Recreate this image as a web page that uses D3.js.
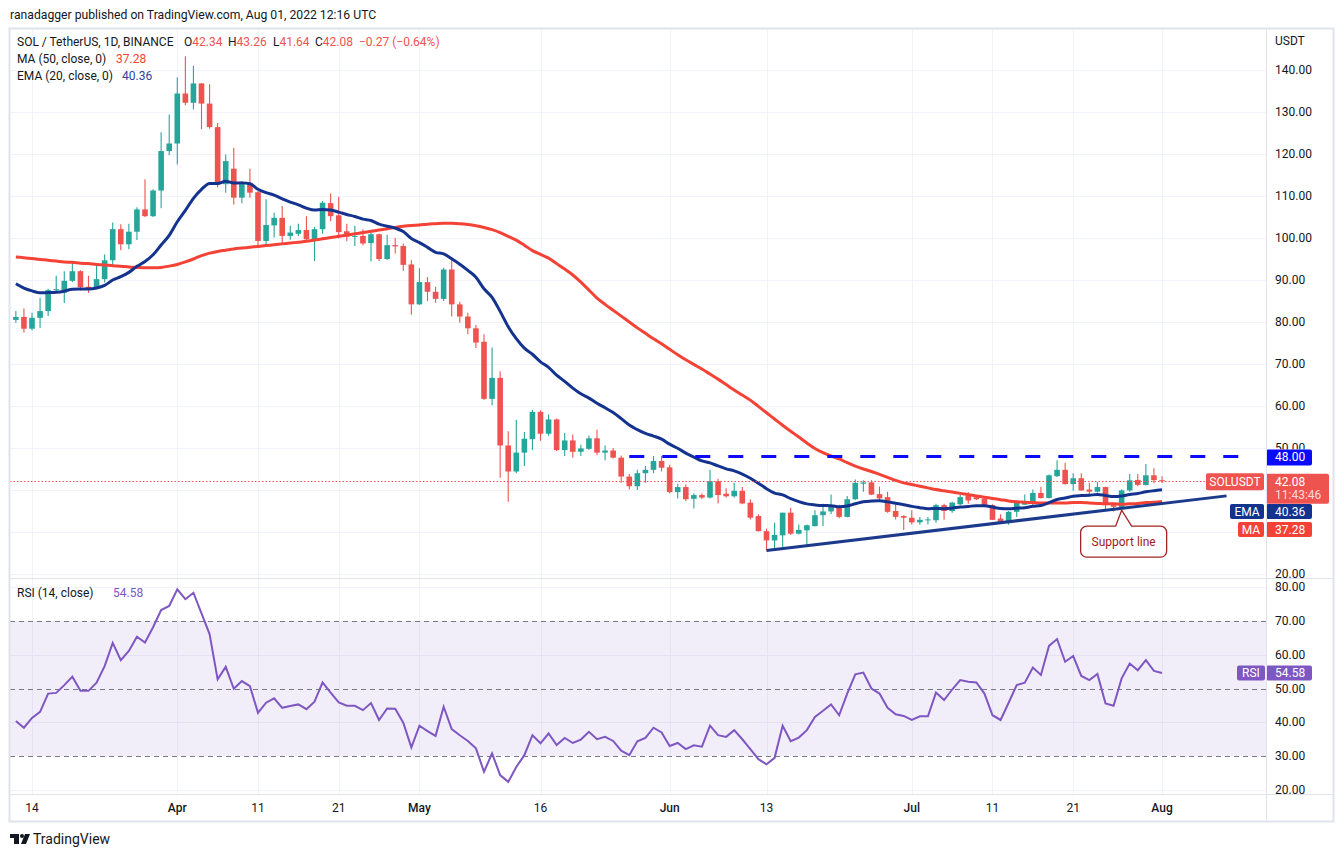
<!DOCTYPE html>
<html>
<head>
<meta charset="utf-8">
<title>SOL / TetherUS, 1D</title>
<script src="https://cdn.jsdelivr.net/npm/d3@7"></script>
<style>
  body { margin: 0; background: #fff; }
  text { font-family: Roboto, "Noto Sans", sans-serif; }
</style>
</head>
<body>
<svg id="chart" width="1344" height="857"></svg>
<script>
// daily candles, first one is Mar 12 2022
var firstDay = '2022-03-12';

var openPrices = [
    80.5, 81.2, 78.4, 81.0, 82.6, 87.6, 87.0, 89.8, 92.1, 88.4,
    88.0, 90.2, 94.7, 102.1, 98.5, 101.5, 106.8, 105.2, 111.3, 120.7,
    122.5, 134.4, 132.2, 136.8, 132.0, 126.4, 112.8, 116.5, 109.6, 113.0,
    110.9, 99.3, 103.0, 104.8, 100.5, 101.0, 101.9, 99.7, 102.1, 108.3,
    105.4, 101.6, 100.3, 100.5, 98.8, 100.9, 95.0, 98.3, 98.1, 93.7,
    84.2, 89.5, 87.2, 85.5, 92.5, 84.2, 81.3, 78.5, 75.3, 61.7,
    66.7, 50.6, 44.4, 48.9, 52.1, 58.6, 53.4, 56.8, 49.5, 51.8,
    49.1, 49.8, 52.3, 48.9, 49.4, 47.7, 43.2, 40.9, 44.0, 44.8,
    46.9, 45.4, 39.5, 40.7, 37.9, 38.8, 38.2, 42.1, 39.1, 38.5,
    39.8, 37.0, 33.8, 30.2, 28.0, 29.2, 34.6, 29.6, 30.4, 31.4,
    34.0, 34.9, 36.1, 33.6, 37.8, 41.5, 41.8, 39.0, 38.3, 35.0,
    33.8, 33.4, 32.3, 32.8, 32.8, 36.4, 35.0, 36.6, 38.7, 38.3,
    38.0, 36.4, 33.2, 32.3, 34.8, 36.5, 36.8, 39.3, 38.1, 43.3,
    44.8, 41.4, 42.8, 40.1, 39.6, 40.7, 36.4, 35.9, 39.9, 42.4,
    41.2, 43.5, 42.34
];
var highPrices = [
    82.6, 83.2, 82.2, 85.8, 87.9, 91.0, 92.1, 94.3, 92.3, 91.0,
    93.7, 96.1, 103.7, 103.3, 103.4, 107.3, 114.0, 111.6, 125.2, 129.4,
    138.3, 143.3, 141.0, 136.9, 136.6, 127.4, 119.9, 121.5, 113.6, 116.5,
    111.2, 109.2, 106.0, 107.6, 102.9, 103.4, 105.2, 102.6, 108.8, 110.6,
    109.8, 103.4, 102.9, 102.1, 101.4, 101.1, 100.8, 100.0, 98.7, 94.7,
    92.8, 90.7, 88.4, 92.9, 94.9, 84.8, 82.2, 79.3, 77.1, 73.9,
    68.3, 54.0, 56.7, 53.8, 59.1, 59.0, 58.0, 57.0, 53.6, 53.2,
    50.8, 53.0, 54.4, 50.6, 50.0, 48.2, 43.8, 44.8, 45.7, 48.1,
    48.1, 46.0, 41.5, 41.3, 39.2, 39.2, 44.8, 42.7, 40.4, 41.7,
    40.7, 37.8, 34.2, 30.8, 32.2, 34.6, 35.8, 31.8, 31.8, 35.2,
    36.7, 38.9, 36.5, 38.6, 42.5, 42.3, 42.3, 40.8, 39.6, 36.6,
    34.0, 35.2, 33.6, 33.6, 36.7, 36.7, 37.2, 38.9, 39.5, 38.7,
    38.3, 36.6, 34.2, 35.0, 37.4, 38.9, 40.1, 40.8, 43.7, 47.1,
    46.5, 44.0, 44.0, 41.7, 41.9, 40.8, 36.5, 40.2, 43.8, 43.8,
    46.2, 45.2, 43.26
];
var lowPrices = [
    79.8, 77.5, 78.0, 78.6, 81.4, 87.0, 84.5, 89.5, 87.5, 86.9,
    87.8, 89.4, 93.4, 97.1, 97.3, 99.5, 105.0, 105.0, 107.1, 119.7,
    117.5, 131.6, 130.6, 125.9, 126.0, 112.0, 110.8, 108.0, 108.3, 109.6,
    98.1, 98.3, 100.1, 98.6, 99.6, 100.5, 99.4, 94.5, 101.0, 104.0,
    99.9, 99.2, 98.1, 98.3, 94.4, 94.5, 94.8, 96.3, 92.2, 81.7,
    84.1, 85.0, 84.6, 85.0, 81.3, 79.9, 77.1, 73.8, 61.4, 60.2,
    42.9, 37.2, 44.0, 45.7, 49.5, 51.7, 52.9, 49.3, 48.1, 47.7,
    48.1, 49.5, 48.3, 47.1, 47.5, 41.7, 40.1, 40.0, 41.7, 44.0,
    44.4, 39.2, 38.0, 37.4, 35.6, 37.8, 38.0, 36.8, 38.2, 38.2,
    36.6, 33.0, 30.1, 25.6, 25.8, 26.4, 29.3, 29.4, 26.9, 31.3,
    31.4, 34.3, 33.3, 33.5, 37.6, 39.6, 38.8, 37.4, 34.6, 33.0,
    30.5, 31.8, 31.7, 31.8, 32.2, 32.9, 34.6, 36.4, 36.7, 37.6,
    36.1, 32.9, 31.9, 31.7, 33.6, 36.4, 36.4, 38.0, 38.0, 43.1,
    41.3, 39.8, 39.8, 38.5, 39.4, 35.0, 34.9, 35.5, 39.6, 40.9,
    41.1, 41.6, 41.64
];
var closePrices = [
    81.2, 78.4, 81.0, 82.6, 87.6, 87.8, 89.8, 92.1, 88.3, 88.0,
    90.2, 94.7, 102.1, 98.5, 101.5, 106.8, 105.2, 111.3, 120.7, 122.5,
    134.4, 132.2, 136.8, 132.0, 126.4, 112.8, 118.3, 109.6, 113.2, 110.8,
    99.3, 103.1, 104.8, 100.5, 101.3, 101.9, 99.7, 102.1, 108.4, 105.2,
    101.4, 100.3, 100.5, 98.7, 100.9, 95.0, 98.3, 98.0, 93.6, 84.2,
    89.5, 87.2, 85.5, 92.5, 84.2, 81.3, 78.5, 75.1, 61.7, 66.7,
    50.6, 44.4, 48.9, 52.2, 58.6, 53.4, 56.8, 49.5, 51.8, 49.1,
    49.9, 52.3, 48.9, 49.4, 47.7, 43.2, 40.9, 44.0, 44.8, 46.9,
    45.3, 39.5, 40.7, 37.8, 38.8, 38.2, 42.1, 38.8, 38.5, 39.8,
    36.8, 33.4, 30.2, 28.0, 29.3, 34.6, 29.6, 30.5, 31.6, 34.0,
    34.9, 36.1, 33.6, 37.8, 41.7, 41.8, 38.9, 38.0, 34.8, 33.6,
    33.4, 32.3, 32.9, 33.0, 36.4, 35.0, 37.0, 38.3, 37.5, 37.8,
    36.2, 32.9, 32.3, 34.8, 37.0, 37.1, 39.3, 38.1, 43.5, 44.8,
    41.4, 42.8, 39.9, 39.6, 40.7, 36.4, 36.0, 39.9, 42.3, 41.2,
    43.5, 42.35, 42.08
];

// MA(50), one value per candle
var ma50 = [
    95.5, 95.3, 95.1, 94.9, 94.7, 94.5, 94.3, 94.2, 94.0, 93.9,
    93.7, 93.6, 93.4, 93.3, 93.1, 93.0, 92.9, 92.9, 93.0, 93.3,
    93.7, 94.3, 95.0, 95.8, 96.4, 96.8, 97.1, 97.4, 97.6, 97.8,
    98.0, 98.2, 98.4, 98.6, 98.8, 99.0, 99.2, 99.5, 99.8, 100.1,
    100.4, 100.7, 101.0, 101.3, 101.6, 101.9, 102.2, 102.5, 102.8, 103.0,
    103.1, 103.3, 103.4, 103.5, 103.5, 103.4, 103.2, 102.9, 102.5, 102.0,
    101.3, 100.4, 99.5, 98.3, 97.0, 96.1, 95.2, 93.9, 92.6, 91.2,
    89.5, 87.6, 85.7, 84.2, 82.8, 81.4, 80.0, 78.6, 77.3, 76.0,
    74.8, 73.5, 72.2, 71.0, 69.9, 68.8, 67.6, 66.4, 65.1, 63.8,
    62.6, 61.4, 59.9, 58.4, 56.9, 55.4, 54.0, 52.6, 51.2, 49.9,
    48.9, 48.1, 47.4, 46.5, 45.7, 45.0, 44.4, 43.7, 43.0, 42.3,
    41.7, 41.3, 40.9, 40.5, 40.1, 39.8, 39.5, 39.2, 38.9, 38.6,
    38.3, 38.0, 37.7, 37.4, 37.2, 37.1, 37.0, 36.9, 36.9, 36.9,
    36.9, 37.0, 37.0, 36.9, 36.8, 36.7, 36.7, 36.6, 36.7, 36.8,
    37.0, 37.1, 37.28
];
// EMA(20) value at the first candle, the rest follows from the closes
var emaStart = 89.1;

// RSI(14)
var rsi14 = [
    40.4, 38.4, 41.3, 43.1, 48.5, 48.7, 51.0, 53.5, 49.3, 49.3,
    51.7, 56.6, 63.5, 58.4, 61.1, 65.3, 63.6, 68.1, 73.2, 74.4,
    79.3, 76.4, 78.3, 72.2, 66.1, 52.7, 56.4, 49.9, 52.2, 50.7,
    42.8, 45.8, 47.1, 44.3, 44.8, 45.3, 43.9, 46.1, 51.8, 48.8,
    45.9, 44.9, 44.9, 43.6, 45.7, 40.7, 44.1, 44.0, 39.9, 32.6,
    39.0, 37.4, 36.0, 44.6, 38.0, 36.2, 34.5, 32.3, 25.4, 30.8,
    24.4, 22.4, 26.8, 30.3, 36.2, 33.8, 36.7, 33.3, 35.4, 33.9,
    34.9, 37.2, 35.0, 35.7, 34.5, 31.6, 30.3, 34.4, 35.4, 38.4,
    37.0, 33.0, 33.9, 32.1, 33.2, 32.8, 39.0, 36.2, 35.7, 37.7,
    35.0, 32.1, 29.1, 27.6, 29.5, 39.0, 34.4, 35.5, 37.7, 41.6,
    43.4, 45.3, 42.1, 48.5, 54.2, 54.7, 50.0, 48.5, 44.3, 42.4,
    41.9, 40.7, 41.8, 41.8, 48.8, 46.6, 49.7, 52.5, 52.0, 51.8,
    48.5, 42.1, 40.7, 45.8, 51.0, 51.7, 56.2, 54.0, 62.6, 64.6,
    57.9, 59.6, 53.7, 52.5, 54.3, 45.6, 44.9, 53.0, 57.4, 55.4,
    58.4, 55.2, 54.58
];

var priceTicks = [20, 30, 40, 50, 60, 70, 80, 90, 100, 110, 120, 130, 140];
var rsiTicks = [20, 30, 40, 50, 60, 70, 80];
var rsiLevels = [30, 50, 70];
var timeTicks = ['2022-03-14', '2022-04-01', '2022-04-11', '2022-04-21', '2022-05-01', '2022-05-16',
    '2022-06-01', '2022-06-13', '2022-07-01', '2022-07-11', '2022-07-21', '2022-08-01'];
var timeLabels = ['14', 'Apr', '11', '21', 'May', '16', 'Jun', '13', 'Jul', '11', '21', 'Aug'];

// drawings
var resistanceLevel = 48;
var resistanceDays = ['2022-05-27', '2022-08-11'];
var supportDays = ['2022-06-13', '2022-08-09'];
var supportPrices = [25.6, 38.6];
var calloutDay = '2022-07-27';
var calloutPrice = 35.2;

var GREEN = '#26a69a', RED = '#ef5350';
var MA_COLOR = '#f44336', EMA_COLOR = '#14338f', RSI_COLOR = '#7e57c2';
var GRID = '#f0f3fa', BORDER = '#e0e3eb', TEXT = '#131722';

var paneLeft = 10, paneRight = 1266;
var priceTop = 29, priceBottom = 578, rsiTop = 579, rsiBottom = 794;

var parseDay = d3.utcParse('%Y-%m-%d');
var day0 = parseDay(firstDay);
var candles = openPrices.map(function(o, i) {
    return {
        date: d3.utcDay.offset(day0, i),
        open: o, high: highPrices[i], low: lowPrices[i], close: closePrices[i]
    };
});

var emaValues = [];
closePrices.forEach(function(c, i) {
    if (i === 0) emaValues.push(emaStart);
    else emaValues.push(emaValues[i - 1] + (c - emaValues[i - 1]) * 2 / 21);
});

var x = d3.scaleUtc()
    .domain([parseDay('2022-03-14'), parseDay('2022-08-01')])
    .range([32, 1162]);
var y = d3.scaleLinear().domain([20, 140]).range([574, 70]);
var yr = d3.scaleLinear().domain([20, 80]).range([790, 587]);

var svg = d3.select('#chart');
var defs = svg.append('defs');
defs.append('clipPath').attr('id', 'priceClip').append('rect')
    .attr('x', paneLeft).attr('y', priceTop)
    .attr('width', paneRight - paneLeft).attr('height', priceBottom - priceTop);
defs.append('clipPath').attr('id', 'rsiClip').append('rect')
    .attr('x', paneLeft).attr('y', rsiTop)
    .attr('width', paneRight - paneLeft).attr('height', rsiBottom - rsiTop);
// the 48.00 tag hides the lower half of the 50.00 label
defs.append('clipPath').attr('id', 'above48').append('rect')
    .attr('x', paneRight).attr('y', priceTop)
    .attr('width', 80).attr('height', y(resistanceLevel) - 7 - priceTop);

svg.append('rect').attr('width', 1344).attr('height', 857).attr('fill', '#fff');

drawGrid();
drawCandles();
drawIndicators();
drawDrawings();
drawRsi();
drawAxes();
drawTags();
drawHeader();
drawFrame();

function drawGrid() {
    var g = svg.append('g');
    g.selectAll('.vgrid').data(timeTicks).enter().append('line')
        .attr('x1', function(d) { return Math.round(x(parseDay(d))) + 0.5; })
        .attr('x2', function(d) { return Math.round(x(parseDay(d))) + 0.5; })
        .attr('y1', priceTop).attr('y2', rsiBottom)
        .attr('stroke', GRID);
    g.selectAll('.hgrid').data(priceTicks).enter().append('line')
        .attr('x1', paneLeft).attr('x2', paneRight)
        .attr('y1', function(d) { return Math.round(y(d)) + 0.5; })
        .attr('y2', function(d) { return Math.round(y(d)) + 0.5; })
        .attr('stroke', GRID);
}

function drawCandles() {
    var g = svg.append('g').attr('clip-path', 'url(#priceClip)');
    var c = g.selectAll('.candle').data(candles).enter().append('g');
    c.append('line')
        .attr('x1', function(d) { return x(d.date); })
        .attr('x2', function(d) { return x(d.date); })
        .attr('y1', function(d) { return y(d.high); })
        .attr('y2', function(d) { return y(d.low); })
        .attr('stroke', function(d) { return d.close >= d.open ? GREEN : RED; })
        .attr('stroke-width', 1.1);
    c.append('rect')
        .attr('x', function(d) { return x(d.date) - 2.8; })
        .attr('width', 5.6)
        .attr('y', function(d) { return y(Math.max(d.open, d.close)); })
        .attr('height', function(d) { return Math.max(1, Math.abs(y(d.open) - y(d.close))); })
        .attr('fill', function(d) { return d.close >= d.open ? GREEN : RED; });
}

function drawIndicators() {
    var g = svg.append('g').attr('clip-path', 'url(#priceClip)');
    var line = d3.line()
        .x(function(d, i) { return x(candles[i].date); })
        .y(function(d) { return y(d); })
        .curve(d3.curveMonotoneX);
    g.append('path').attr('d', line(ma50))
        .attr('fill', 'none').attr('stroke', MA_COLOR).attr('stroke-width', 3);
    g.append('path').attr('d', line(emaValues))
        .attr('fill', 'none').attr('stroke', EMA_COLOR).attr('stroke-width', 3);
}

function drawDrawings() {
    var g = svg.append('g').attr('clip-path', 'url(#priceClip)');
    var last = closePrices[closePrices.length - 1];
    // last price line
    g.append('line')
        .attr('x1', paneLeft).attr('x2', 1205)
        .attr('y1', Math.round(y(last)) + 0.5)
        .attr('y2', Math.round(y(last)) + 0.5)
        .attr('stroke', RED).attr('stroke-dasharray', '1.5,2');
    // resistance
    g.append('line')
        .attr('x1', x(parseDay(resistanceDays[0]))).attr('x2', x(parseDay(resistanceDays[1])))
        .attr('y1', y(resistanceLevel)).attr('y2', y(resistanceLevel))
        .attr('stroke', '#0a0aff').attr('stroke-width', 3)
        .attr('stroke-dasharray', '15,18');
    // support trend line
    g.append('line')
        .attr('x1', x(parseDay(supportDays[0]))).attr('y1', y(supportPrices[0]))
        .attr('x2', x(parseDay(supportDays[1]))).attr('y2', y(supportPrices[1]))
        .attr('stroke', '#1c3a8c').attr('stroke-width', 3);

    // callout
    var ax = x(parseDay(calloutDay)), ay = y(calloutPrice);
    var left = ax - 41, right = ax + 45, top = ay + 16, bottom = ay + 47, r = 6;
    var p = d3.path();
    p.moveTo(left + r, top);
    p.lineTo(ax - 6, top);
    p.lineTo(ax, ay);
    p.lineTo(ax + 10, top);
    p.lineTo(right - r, top);
    p.arcTo(right, top, right, top + r, r);
    p.lineTo(right, bottom - r);
    p.arcTo(right, bottom, right - r, bottom, r);
    p.lineTo(left + r, bottom);
    p.arcTo(left, bottom, left, bottom - r, r);
    p.lineTo(left, top + r);
    p.arcTo(left, top, left + r, top, r);
    p.closePath();
    g.append('path').attr('d', p.toString())
        .attr('fill', '#fff').attr('stroke', '#a32424').attr('stroke-width', 1.3);
    g.append('text')
        .attr('x', (left + right) / 2).attr('y', top + 20)
        .attr('text-anchor', 'middle')
        .attr('font-size', 12).attr('fill', '#9b1c1c')
        .text('Support line');
}

function drawRsi() {
    var g = svg.append('g').attr('clip-path', 'url(#rsiClip)');
    g.selectAll('.rgrid').data(rsiTicks.filter(function(t) { return rsiLevels.indexOf(t) < 0; }))
        .enter().append('line')
        .attr('x1', paneLeft).attr('x2', paneRight)
        .attr('y1', function(d) { return Math.round(yr(d)) + 0.5; })
        .attr('y2', function(d) { return Math.round(yr(d)) + 0.5; })
        .attr('stroke', GRID);
    g.append('rect')
        .attr('x', paneLeft).attr('width', paneRight - paneLeft)
        .attr('y', yr(70)).attr('height', yr(30) - yr(70))
        .attr('fill', 'rgba(126,87,194,0.1)');
    g.selectAll('.level').data(rsiLevels).enter().append('line')
        .attr('x1', paneLeft).attr('x2', paneRight)
        .attr('y1', function(d) { return Math.round(yr(d)) + 0.5; })
        .attr('y2', function(d) { return Math.round(yr(d)) + 0.5; })
        .attr('stroke', '#787b86').attr('stroke-dasharray', '5,4');
    var line = d3.line()
        .x(function(d, i) { return x(candles[i].date); })
        .y(function(d) { return yr(d); });
    g.append('path').attr('d', line(rsi14))
        .attr('fill', 'none').attr('stroke', RSI_COLOR).attr('stroke-width', 2);
}

function drawAxes() {
    var g = svg.append('g').attr('font-size', 12).attr('fill', TEXT);
    // 40 and 30 sit under the price / MA tags, as on the original
    var shown = priceTicks.filter(function(t) { return t !== 40 && t !== 30; });
    g.selectAll('.py').data(shown).enter().append('text')
        .attr('x', 1275).attr('y', function(d) { return y(d) + 4; })
        .attr('clip-path', function(d) { return d === 50 ? 'url(#above48)' : null; })
        .text(function(d) { return d3.format('.2f')(d); });
    g.append('text').attr('x', 1275).attr('y', 45).text('USDT');
    g.selectAll('.ry').data(rsiTicks).enter().append('text')
        .attr('x', 1275).attr('y', function(d) { return yr(d) + 4; })
        .text(function(d) { return d3.format('.2f')(d); });
    g.selectAll('.tx').data(timeTicks).enter().append('text')
        .attr('x', function(d) { return x(parseDay(d)); })
        .attr('y', 812)
        .attr('text-anchor', 'middle')
        .attr('font-weight', function(d, i) { return /^[A-Z]/.test(timeLabels[i]) ? 500 : 400; })
        .text(function(d, i) { return timeLabels[i]; });
}

function tag(x0, yc, w, h, fill, label, color, anchor) {
    svg.append('rect').attr('x', x0).attr('y', yc - h / 2)
        .attr('width', w).attr('height', h).attr('rx', 2).attr('fill', fill);
    svg.append('text')
        .attr('x', anchor === 'middle' ? x0 + w / 2 : x0 + 9)
        .attr('y', yc + 4)
        .attr('text-anchor', anchor || 'start')
        .attr('font-size', 12).attr('fill', color || '#fff')
        .text(label);
}

function drawTags() {
    var last = closePrices[closePrices.length - 1];
    var f = d3.format('.2f');
    tag(paneRight, y(resistanceLevel) + 1, 46, 16, '#0a0aff', f(resistanceLevel));
    tag(1206, y(last) + 0.5, 58, 17, RED, 'SOLUSDT', '#fff', 'middle');
    svg.append('rect').attr('x', paneRight).attr('y', y(last) - 7.5)
        .attr('width', 63).attr('height', 30).attr('rx', 2).attr('fill', RED);
    svg.append('text').attr('x', 1275).attr('y', y(last) + 5).attr('font-size', 12)
        .attr('fill', '#fff').text(f(last));
    svg.append('text').attr('x', 1275).attr('y', y(last) + 18).attr('font-size', 12)
        .attr('fill', '#fff').attr('fill-opacity', 0.8).text('11:43:46');
    var ma = ma50[ma50.length - 1];
    tag(1230, 511.5, 34, 15, EMA_COLOR, 'EMA', '#fff', 'middle');
    tag(paneRight, 511.5, 46, 15, EMA_COLOR, '40.36');
    tag(1238, 529.5, 26, 15, MA_COLOR, 'MA', '#fff', 'middle');
    tag(paneRight, 529.5, 46, 15, MA_COLOR, f(ma));
    var r = rsi14[rsi14.length - 1];
    tag(1237, yr(r), 28, 15, RSI_COLOR, 'RSI', '#fff', 'middle');
    tag(paneRight, yr(r), 46, 15, RSI_COLOR, f(r));
}

function drawHeader() {
    var g = svg.append('g').attr('font-size', 12).attr('fill', TEXT);
    g.append('text').attr('x', 10).attr('y', 19).attr('font-size', 12.2)
        .text('ranadagger published on TradingView.com, Aug 01, 2022 12:16 UTC');

    var n = candles.length - 1;
    var f = d3.format('.2f');
    var t = g.append('text').attr('y', 46);
    t.append('tspan').attr('x', 17).text('SOL / TetherUS, 1D, BINANCE');
    var parts = [['O', openPrices[n], 184], ['H', highPrices[n], 228],
                 ['L', lowPrices[n], 273], ['C', closePrices[n], 315]];
    parts.forEach(function(p) {
        t.append('tspan').attr('x', p[2]).text(p[0]);
        t.append('tspan').attr('fill', RED).text(f(p[1]));
    });
    var chg = closePrices[n] - closePrices[n - 1];
    t.append('tspan').attr('x', 359).attr('fill', RED)
        .text('\u2212' + f(Math.abs(chg)) + ' (\u2212' + f(Math.abs(chg) / closePrices[n - 1] * 100) + '%)');

    var m = g.append('text').attr('x', 17).attr('y', 63);
    m.append('tspan').text('MA (50, close, 0)');
    m.append('tspan').attr('x', 116).attr('fill', MA_COLOR).text(f(ma50[n]));
    var e = g.append('text').attr('x', 17).attr('y', 80);
    e.append('tspan').text('EMA (20, close, 0)');
    e.append('tspan').attr('x', 122).attr('fill', '#2a44a0').text('40.36');
    var r = g.append('text').attr('x', 17).attr('y', 597);
    r.append('tspan').text('RSI (14, close)');
    r.append('tspan').attr('x', 113).attr('fill', RSI_COLOR).text(f(rsi14[n]));

    // logo
    var logo = svg.append('g').attr('fill', TEXT);
    logo.append('rect').attr('x', 10).attr('y', 834).attr('width', 9).attr('height', 4);
    logo.append('rect').attr('x', 14).attr('y', 834).attr('width', 5).attr('height', 10);
    logo.append('circle').attr('cx', 22).attr('cy', 836).attr('r', 2);
    logo.append('path').attr('d', 'M25,834 L30,834 L26,844 L21,844 Z');
    svg.append('text').attr('x', 33).attr('y', 844)
        .attr('font-size', 14).attr('fill', TEXT).text('TradingView');
}

function drawFrame() {
    var g = svg.append('g').attr('stroke', BORDER).attr('fill', 'none');
    g.append('rect').attr('x', 9.5).attr('y', 28.5).attr('width', 1324).attr('height', 793)
        .attr('stroke-width', 2);
    g.append('line').attr('x1', paneLeft).attr('x2', 1334).attr('y1', 578.5).attr('y2', 578.5);
    g.append('line').attr('x1', paneLeft).attr('x2', 1334).attr('y1', 794.5).attr('y2', 794.5);
    g.append('line').attr('x1', 1266.5).attr('x2', 1266.5).attr('y1', 29).attr('y2', 821);
}
</script>
</body>
</html>
